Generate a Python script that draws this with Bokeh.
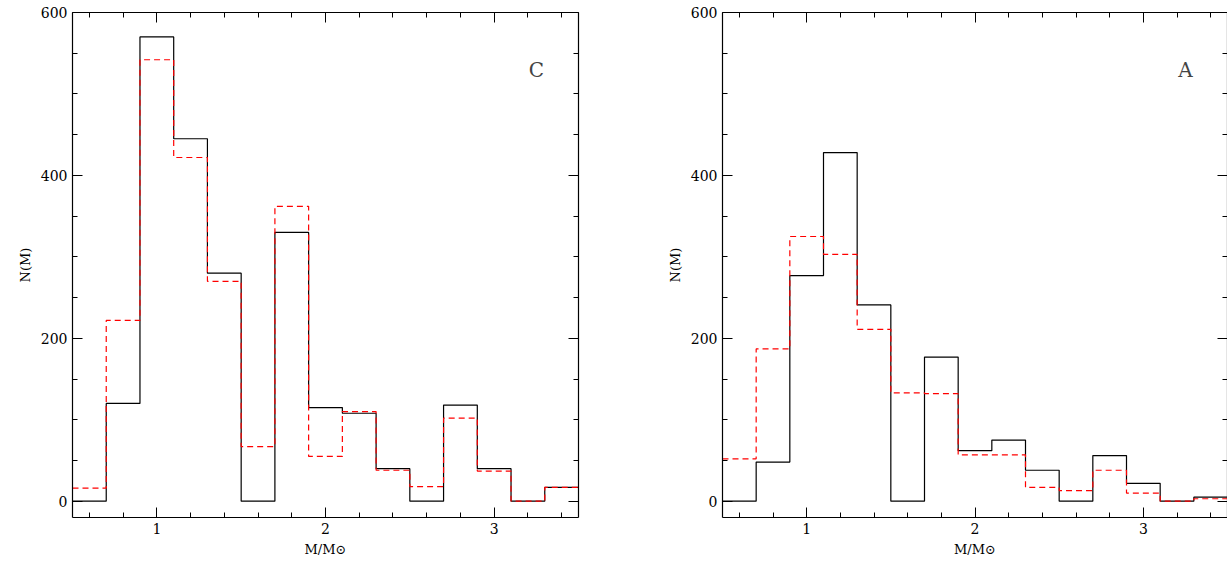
from bokeh.plotting import figure
from bokeh.layouts import row
from bokeh.models import LinearAxis, FixedTicker, Range1d, Label
from bokeh.embed import file_html
from bokeh.resources import INLINE

edges = [0.5 + 0.2 * i for i in range(16)]
c_black = [0, 120, 570, 445, 280, 0, 330, 115, 108, 40, 0, 118, 40, 0, 17]
c_red = [16, 222, 542, 422, 270, 67, 362, 55, 110, 38, 18, 102, 37, 0, 17]
a_black = [0, 48, 277, 428, 241, 0, 177, 62, 75, 38, 0, 56, 22, 0, 5]
a_red = [52, 187, 325, 303, 211, 133, 132, 57, 57, 17, 13, 38, 10, 0, 3]

FONT = "DejaVu Serif"


def style_axis(ax, labels):
    ax.major_tick_in = 10
    ax.major_tick_out = 0
    ax.minor_tick_in = 5
    ax.minor_tick_out = 0
    ax.axis_line_color = "black"
    ax.axis_line_width = 1.2
    ax.major_label_text_font = FONT
    ax.major_label_text_font_size = "14px"
    ax.major_label_text_color = "black"
    ax.axis_label_text_font = FONT
    ax.axis_label_text_font_size = "13px"
    ax.axis_label_text_font_style = "normal"
    ax.axis_label_text_color = "black"
    if not labels:
        ax.major_label_overrides = {1: "", 2: "", 3: "", 0: "", 200: "", 400: "", 600: ""}


def panel(black, red, tag, width, border_left, border_right):
    p = figure(width=width, height=568, output_backend="svg", toolbar_location=None,
               x_range=Range1d(0.5, 3.5), y_range=Range1d(-20, 600),
               min_border_left=border_left, min_border_right=border_right,
               min_border_top=12, min_border_bottom=51)
    p.grid.visible = False
    p.outline_line_color = None
    xt = FixedTicker(ticks=[1, 2, 3], minor_ticks=[0.2 * i for i in range(1, 20)])
    yt = FixedTicker(ticks=[0, 200, 400, 600], minor_ticks=[50 * i for i in range(13)])
    p.xaxis.ticker = xt
    p.yaxis.ticker = yt
    p.xaxis.axis_label = "M/M\u2299"
    p.yaxis.axis_label = "N(M)"
    style_axis(p.xaxis[0], True)
    style_axis(p.yaxis[0], True)
    top = LinearAxis(ticker=xt)
    right = LinearAxis(ticker=yt)
    style_axis(top, False)
    style_axis(right, False)
    p.add_layout(top, "above")
    p.add_layout(right, "right")
    p.step(edges, black + [black[-1]], mode="after", line_color="black", line_width=1.2)
    p.step(edges, red + [red[-1]], mode="after", line_color="red", line_width=1.2,
           line_dash="6 4")
    p.add_layout(Label(x=3.25, y=515, text=tag, text_font=FONT, text_font_size="20px",
                       text_align="center"))
    return p


p1 = panel(c_black, c_red, "C", 658, 72, 80)
p2 = panel(a_black, a_red, "A", 569, 64, 0)
p = row(p1, p2)
open("out.html", "w").write(file_html(p, INLINE))
